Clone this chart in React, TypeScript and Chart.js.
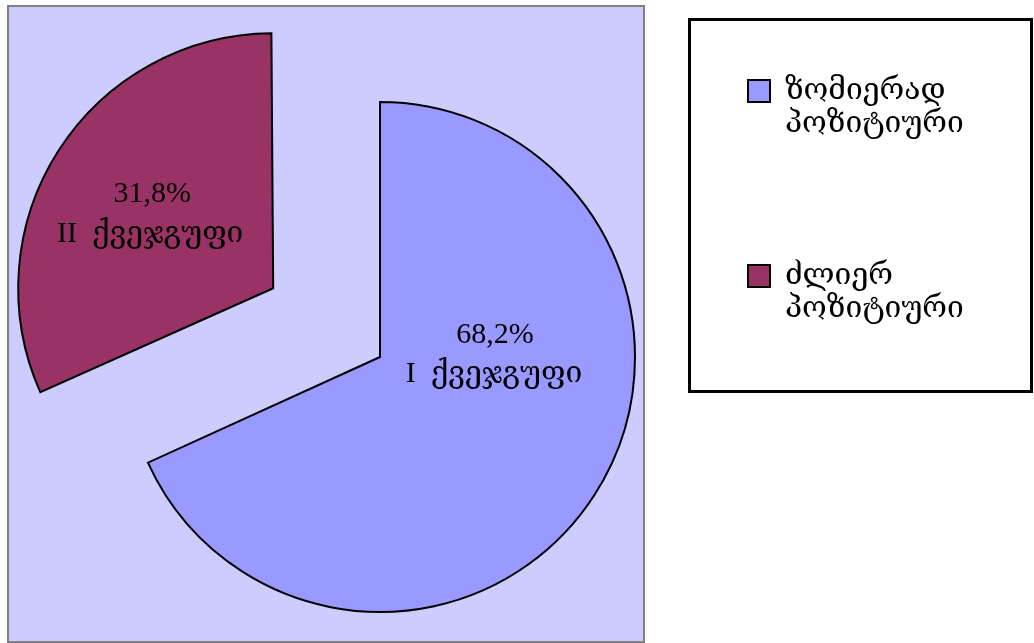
import { useEffect, useRef } from 'react';
import { Chart, registerables } from 'chart.js';

Chart.register(...registerables);

// ---- data ----
const categories: string[][] = [
  ['ზომიერად', 'პოზიტიური'],
  ['ძლიერ', 'პოზიტიური'],
];
const shares: number[] = [68.2, 31.8];
const subgroups: string[] = ['I  ქვეჯგუფი', 'II  ქვეჯგუფი'];

// ---- styles / layout ----
const sliceColors = ['#9999FF', '#993366'];
const sliceOffsets = [0, 508];
const W = 1034;
const H = 643;
const FONT = "'Liberation Serif', 'DejaVu Serif', serif";
const PLOT = { x: 7, y: 5, w: 638, h: 638 };
const PIE = { cx: 380, cy: 357, r: 255 };
const LEGEND_BOX = { x: 688, y: 18, w: 345, h: 375 };
const LEGEND_PAD = 119;
const LEGEND_FONT = 30;
const LEGEND_ITEM = { x: 748, y: 76 };
const LABEL_FONT = 30;
const LABEL_SHIFT: number[][][] = [
  [[115, -14], [114, 25]],
  [[-121, -86], [-123, -46]],
];

const fmtPct = (v: number) => v.toFixed(1).replace('.', ',') + '%';

const framePlugin = {
  id: 'frame',
  beforeDraw(chart: any) {
    const ctx = chart.ctx;
    ctx.save();
    ctx.fillStyle = '#ffffff';
    ctx.fillRect(0, 0, W, H);
    ctx.fillStyle = '#CCCCFF';
    ctx.fillRect(PLOT.x, PLOT.y, PLOT.w, PLOT.h);
    ctx.strokeStyle = '#808080';
    ctx.lineWidth = 2;
    ctx.strokeRect(PLOT.x + 1, PLOT.y + 1, PLOT.w - 2, PLOT.h - 2);
    ctx.fillStyle = '#ffffff';
    ctx.fillRect(LEGEND_BOX.x, LEGEND_BOX.y, LEGEND_BOX.w, LEGEND_BOX.h);
    ctx.strokeStyle = '#000000';
    ctx.lineWidth = 3;
    ctx.strokeRect(LEGEND_BOX.x + 1.5, LEGEND_BOX.y + 1.5, LEGEND_BOX.w - 3, LEGEND_BOX.h - 3);
    ctx.restore();
  },
};

const placePlugin = {
  id: 'place',
  afterLayout(chart: any) {
    chart.chartArea = {
      left: PIE.cx - PIE.r,
      right: PIE.cx + PIE.r,
      top: PIE.cy - PIE.r,
      bottom: PIE.cy + PIE.r,
      width: 2 * PIE.r,
      height: 2 * PIE.r,
    };
    const lg = chart.legend;
    if (lg) {
      lg.left = LEGEND_ITEM.x - LEGEND_PAD;
      lg.right = W;
      lg.top = LEGEND_ITEM.y - LEGEND_PAD;
      lg.bottom = H;
      lg.width = lg.right - lg.left;
      lg.height = lg.bottom - lg.top;
    }
  },
  // Chart.js grows an exploded arc's radius by offset/4 * (1 - sin(circumference));
  // shrink it back so the exploded slice keeps the same radius as the others.
  afterDatasetUpdate(chart: any, args: any) {
    const meta = chart.getDatasetMeta(args.index);
    meta.data.forEach((arc: any) => {
      const off = ((arc.options && arc.options.offset) || 0) / 4;
      if (!off) return;
      const fix = 1 - Math.sin(Math.min(Math.PI, arc.circumference || 0));
      arc.outerRadius = arc.outerRadius - off * fix;
    });
  },
};

const labelPlugin = {
  id: 'sliceLabels',
  afterDatasetsDraw(chart: any) {
    const meta = chart.getDatasetMeta(0);
    const values = chart.data.datasets[0].data as number[];
    const ctx = chart.ctx;
    ctx.save();
    ctx.font = `${LABEL_FONT}px ${FONT}`;
    ctx.fillStyle = '#000000';
    ctx.textAlign = 'center';
    ctx.textBaseline = 'alphabetic';
    meta.data.forEach((arc: any, i: number) => {
      const { x, y, startAngle, endAngle } = arc.getProps(['x', 'y', 'startAngle', 'endAngle'], true);
      const off = (arc.options.offset || 0) / 4;
      const half = (startAngle + endAngle) / 2;
      const cx = x + Math.cos(half) * off;
      const cy = y + Math.sin(half) * off;
      const lines = [fmtPct(values[i]), subgroups[i]];
      lines.forEach((line, j) => {
        const [dx, dy] = LABEL_SHIFT[i][j];
        ctx.fillText(line, cx + dx, cy + dy);
      });
    });
    ctx.restore();
  },
};

export default function App() {
  const ref = useRef<HTMLCanvasElement>(null);
  useEffect(() => {
    if (!ref.current) return;
    const chart = new Chart(ref.current, {
      type: 'pie',
      data: {
        labels: categories as any,
        datasets: [
          {
            data: shares,
            backgroundColor: sliceColors,
            borderColor: '#000000',
            borderWidth: 2,
            borderJoinStyle: 'miter',
            offset: sliceOffsets,
            radius: PIE.r,
            cutout: '0%',
            clip: false,
          } as any,
        ],
      },
      options: {
        animation: false,
        responsive: false,
        devicePixelRatio: 1,
        events: [],
        cutout: '0%',
        layout: { padding: 0 },
        plugins: {
          tooltip: { enabled: false },
          legend: {
            display: true,
            position: 'right',
            align: 'start',
            labels: {
              color: '#000000',
              boxWidth: 22,
              boxHeight: 22,
              padding: LEGEND_PAD,
              font: { family: FONT, size: LEGEND_FONT, lineHeight: 33 / LEGEND_FONT },
            },
          },
        },
      } as any,
      plugins: [framePlugin, placePlugin, labelPlugin],
    });
    return () => chart.destroy();
  }, []);
  return (
    <canvas
      ref={ref}
      width={W}
      height={H}
      style={{ position: 'absolute', left: 0, top: 0, width: W, height: H }}
    />
  );
}
